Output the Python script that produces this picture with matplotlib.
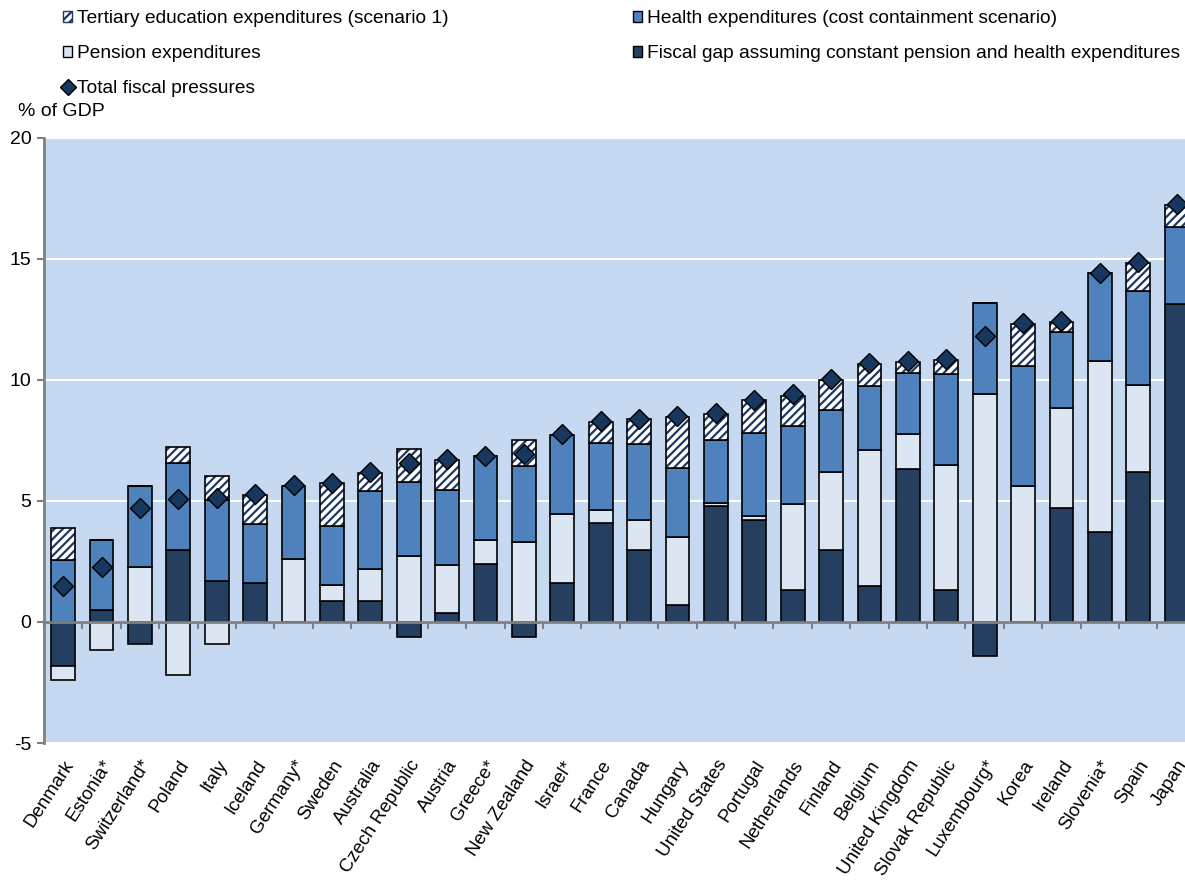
import numpy as np
import matplotlib
matplotlib.use("Agg")
import matplotlib.pyplot as plt
from matplotlib.patches import Patch
from matplotlib.lines import Line2D

countries = ["Denmark", "Estonia*", "Switzerland*", "Poland", "Italy", "Iceland",
             "Germany*", "Sweden", "Australia", "Czech Republic", "Austria", "Greece*",
             "New Zealand", "Israel*", "France", "Canada", "Hungary", "United States",
             "Portugal", "Netherlands", "Finland", "Belgium", "United Kingdom",
             "Slovak Republic", "Luxembourg*", "Korea", "Ireland", "Slovenia*", "Spain",
             "Japan"]

fiscal_gap = [-1.82, 0.49, -0.90, 2.98, 1.70, 1.59, 0.0, 0.88, 0.88, -0.62,
              0.39, 2.39, -0.62, 1.59, 4.08, 2.97, 0.70, 4.80, 4.20, 1.31,
              2.97, 1.49, 6.31, 1.31, -1.41, 0.0, 4.69, 3.71, 6.21, 13.12]
pension = [-0.57, -1.15, 2.29, -2.19, -0.90, 0.0, 2.59, 0.63, 1.31, 2.73,
           1.96, 1.01, 3.30, 2.89, 0.53, 1.23, 2.80, 0.10, 0.18, 3.55,
           3.21, 5.60, 1.47, 5.18, 9.43, 5.60, 4.15, 7.08, 3.59, 0.0]
health = [2.57, 2.91, 3.31, 3.58, 3.32, 2.45, 3.01, 2.45, 3.23, 3.05,
          3.09, 3.45, 3.15, 3.23, 2.78, 3.15, 2.87, 2.63, 3.41, 3.23,
          2.58, 2.66, 2.50, 3.74, 3.76, 4.96, 3.16, 3.61, 3.88, 3.19]
tertiary = [1.33, 0.0, 0.0, 0.69, 1.02, 1.21, 0.0, 1.78, 0.73, 1.38,
            1.24, 0.0, 1.08, 0.0, 0.88, 1.03, 2.11, 1.06, 1.38, 1.25,
            1.22, 0.92, 0.46, 0.59, 0.0, 1.74, 0.39, 0.0, 1.16, 0.90]
total = [1.50, 2.27, 4.71, 5.07, 5.14, 5.29, 5.65, 5.76, 6.19, 6.57,
         6.72, 6.85, 6.96, 7.75, 8.30, 8.40, 8.51, 8.63, 9.18, 9.40,
         10.03, 10.70, 10.78, 10.88, 11.80, 12.34, 12.42, 14.43, 14.87, 17.26]

c_gap = "#243F60"
c_pension = "#DCE6F2"
c_health = "#4F81BD"
c_hatch = "#1F3864"
c_diamond = "#17375E"
c_bg = "#C6D9F1"

plt.rcParams["font.family"] = ["Liberation Sans", "DejaVu Sans"]
plt.rcParams["hatch.linewidth"] = 1.6
plt.rcParams["axes.unicode_minus"] = False

fig = plt.figure(figsize=(11.85, 8.84), dpi=100)
ax = fig.add_axes([0.0371, 0.1595, 0.972, 0.6845])
ax.set_facecolor(c_bg)

x = np.arange(len(countries))
w = 0.62
pos = np.zeros(len(x))
neg = np.zeros(len(x))
for vals, col in [(fiscal_gap, c_gap), (pension, c_pension), (health, c_health)]:
    v = np.array(vals)
    bottom = np.where(v >= 0, pos, neg)
    ax.bar(x, v, w, bottom=bottom, color=col, edgecolor="black", linewidth=1.2, zorder=3)
    pos = pos + np.where(v > 0, v, 0)
    neg = neg + np.where(v < 0, v, 0)
t = np.array(tertiary)
ax.bar(x, t, w, bottom=pos, color="white", edgecolor=c_hatch, hatch="////",
       linewidth=0, zorder=3)
ax.bar(x, t, w, bottom=pos, fill=False, edgecolor="black", linewidth=1.2, zorder=3)
ax.plot(x, total, linestyle="none", marker="D", markersize=10, color=c_diamond,
        markeredgecolor="black", markeredgewidth=1, zorder=5)

ax.set_ylim(-5, 20)
ax.set_xlim(-0.5, len(x) - 0.5)
ax.set_yticks([-5, 0, 5, 10, 15, 20])
ax.yaxis.grid(True, color="white", linewidth=1.5, zorder=1)
ax.set_axisbelow(True)
ax.axhline(0, color="#808080", linewidth=2, zorder=4)

for s in ["top", "right", "bottom"]:
    ax.spines[s].set_visible(False)
ax.spines["left"].set_color("#808080")
ax.spines["left"].set_linewidth(2)
ax.tick_params(axis="y", direction="out", length=5, width=1.5, color="#808080",
               labelsize=14, pad=4)
ax.set_xticks(x)
ax.set_xticklabels(countries, rotation=57, ha="right", rotation_mode="anchor", fontsize=13.5)
ax.tick_params(axis="x", length=0, pad=10)

# small boundary ticks on the zero line
zero_frac = (0 - (-5)) / 25
sec = ax.secondary_xaxis(zero_frac)
sec.set_xticks(np.arange(len(x) + 1) - 0.5)
sec.set_xticklabels([])
sec.tick_params(axis="x", length=5, width=1.5, color="#808080", direction="out")
sec.spines["bottom"].set_visible(False)

handles = [
    Patch(facecolor="white", edgecolor=c_hatch, hatch="////", linewidth=1),
    Patch(facecolor=c_pension, edgecolor="black", linewidth=1),
    Line2D([], [], linestyle="none", marker="D", markersize=8, color=c_diamond,
           markeredgecolor="black"),
    Patch(facecolor=c_health, edgecolor="black", linewidth=1),
    Patch(facecolor=c_gap, edgecolor="black", linewidth=1),
]
labels = ["Tertiary education expenditures (scenario 1)", "Pension expenditures",
          "Total fiscal pressures", "Health expenditures (cost containment scenario)",
          "Fiscal gap assuming constant pension and health expenditures"]
fig.legend(handles, labels, ncol=2, loc="upper left", bbox_to_anchor=(0.040, 1.006),
           frameon=False, fontsize=13.8, handlelength=0.5, handleheight=0.5,
           handletextpad=0.25, columnspacing=9.6, labelspacing=0.95, borderpad=0.3)

fig.text(18 / 1185, 1 - 112 / 884, "% of GDP", fontsize=14, va="center", ha="left")

plt.savefig("out.png", dpi=100)
plt.close()
